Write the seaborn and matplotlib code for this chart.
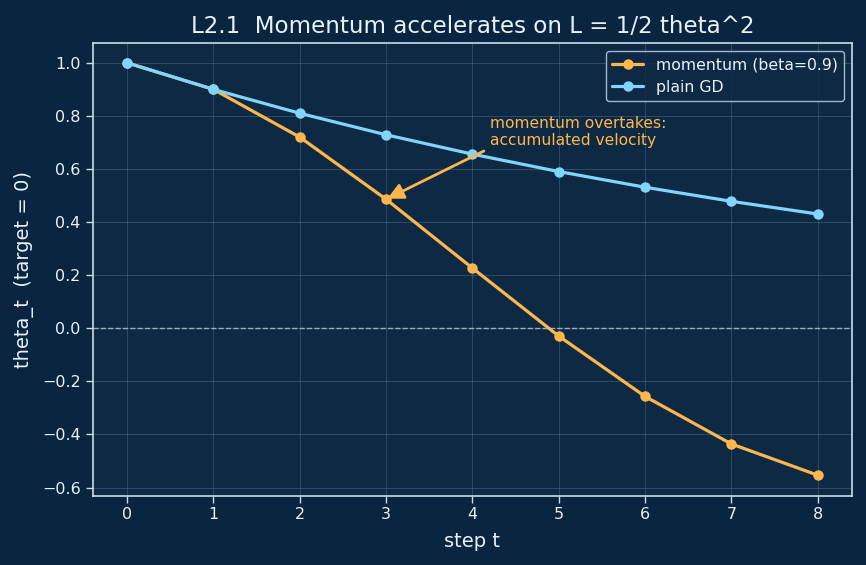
import matplotlib
matplotlib.use("Agg")
import matplotlib.pyplot as plt
import pandas as pd
import seaborn as sns

# données
steps = [0, 1, 2, 3, 4, 5, 6, 7, 8]
theta_momentum = [1.0, 0.9, 0.72, 0.486, 0.2268, -0.0292, -0.2566, -0.4357, -0.5533]
theta_gd = [1.0, 0.9, 0.81, 0.729, 0.6561, 0.5905, 0.5314, 0.4783, 0.4305]

BG = "#0a2540"
AX_BG = "#0d2944"
FG = "#e8f1fa"
SPINE = "#c9dcee"
ORANGE = "#ffb74d"
BLUE = "#81d4fa"

sns.set_theme(style="darkgrid")
plt.rcParams.update({
    "figure.facecolor": BG,
    "axes.facecolor": AX_BG,
    "axes.edgecolor": SPINE,
    "axes.labelcolor": FG,
    "xtick.color": FG,
    "ytick.color": FG,
    "text.color": FG,
    "grid.color": "#7f98b0",
    "grid.linewidth": 0.6,
})
plt.rcParams["font.family"] = ["DejaVu Sans"]

df = pd.DataFrame({
    "step": steps * 2,
    "theta": theta_momentum + theta_gd,
    "serie": ["momentum (beta=0.9)"] * len(steps) + ["plain GD"] * len(steps),
})

fig, ax = plt.subplots(figsize=(8.66, 5.65), dpi=100)
sns.lineplot(
    data=df, x="step", y="theta", hue="serie",
    palette={"momentum (beta=0.9)": ORANGE, "plain GD": BLUE},
    marker="o", markersize=7.5, markeredgewidth=0, linewidth=2.3, ax=ax,
)

ax.axhline(0, color="#b8c9da", linestyle="--", linewidth=1.0, alpha=0.8)

ax.annotate(
    "momentum overtakes:\naccumulated velocity",
    xy=(steps[3], theta_momentum[3]), xytext=(4.2, 0.69),
    color=ORANGE, fontsize=11.2,
    arrowprops=dict(arrowstyle="-|>", color=ORANGE, lw=2, mutation_scale=24,
                    relpos=(0.0, 0.0), shrinkB=1),
)

for s in ax.spines.values():
    s.set_visible(True)
    s.set_color(SPINE)
    s.set_linewidth(1.2)
ax.tick_params(axis="both", which="major", length=5, width=1, color=SPINE,
               labelsize=11.5, bottom=True, left=True)
ax.grid(True, alpha=0.35)

ax.set_xticks(steps)
ax.set_xlim(-0.4, 8.4)
ax.set_ylim(-0.63, 1.075)
ax.set_xlabel("step t", fontsize=14, labelpad=7)
ax.set_ylabel("theta_t  (target = 0)", fontsize=14, labelpad=6)
ax.set_title("L2.1  Momentum accelerates on L = 1/2 theta^2", fontsize=16.6,
             color=FG, pad=7)

leg = ax.legend(loc="upper right", fontsize=11.3, frameon=True)
leg.get_frame().set_facecolor(AX_BG)
leg.get_frame().set_edgecolor(SPINE)
for t in leg.get_texts():
    t.set_color(FG)

fig.subplots_adjust(left=0.107, right=0.984, top=0.924, bottom=0.123)
fig.savefig("out.png", dpi=100, facecolor=BG)
